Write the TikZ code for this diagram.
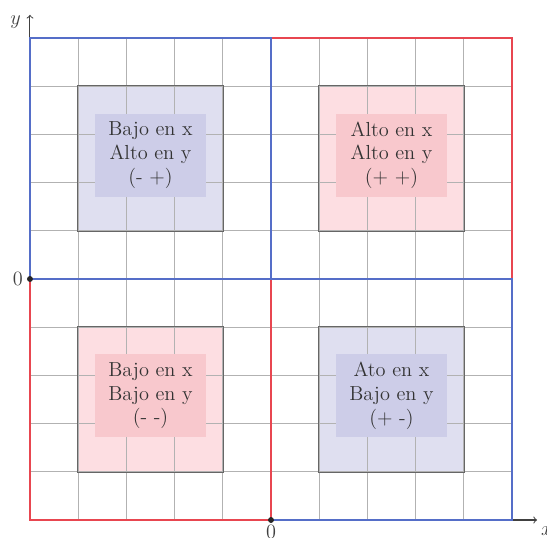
\documentclass[tikz,border=0pt]{standalone}
\usetikzlibrary{arrows,positioning}

\definecolor{qblue}{RGB}{85,110,200}
\definecolor{qred}{RGB}{232,70,80}
\definecolor{zoneblue}{RGB}{223,223,240}
\definecolor{tagblue}{RGB}{205,205,232}
\definecolor{zonered}{RGB}{253,222,226}
\definecolor{tagred}{RGB}{248,200,205}

\begin{document}
\begin{tikzpicture}[
  >=to,
  quad/.style={draw=#1, line width=0.9pt},
  zone/.style={
    rectangle, fill=#1, minimum size=3cm, inner sep=0pt
  },
  tag/.style={
    rectangle, fill=#1, text=black!80,
    minimum width=2.32cm, minimum height=1.72cm,
    font=\large, align=center, inner sep=0pt
  },
  lbl/.style={font=\large, text=black!75, inner sep=1pt},
  dot/.style={circle, fill=black!85, inner sep=0pt, minimum size=3.5pt}
]
\useasboundingbox (-0.622,-0.353) rectangle (10.726,10.788);

% Zonas
\node[zone=zoneblue] (tl) at (2.5,7.5) {};
\node[zone=zonered]  (tr) at (7.5,7.5) {};
\node[zone=zonered]  (bl) at (2.5,2.5) {};
\node[zone=zoneblue] (br) at (7.5,2.5) {};

% Rejilla
\draw[gray!60, line width=0.6pt] (0,0) grid (10,10);

% Ejes
\coordinate (o)    at (0,0);
\coordinate (xend) at (10.52,0);
\coordinate (yend) at (0,10.48);
\draw[->, black!75, line width=0.6pt] (o) -- (xend);
\draw[->, black!75, line width=0.6pt] (o) -- (yend);
\node[lbl] (xlab) at (10.72,-0.24) {$x$};
\node[lbl] (ylab) at (-0.3,10.33) {$y$};

% Cuadrantes
\draw[quad=qred]  (5,5) rectangle (10,10);
\draw[quad=qblue] (5,0) rectangle (10,5);
\draw[quad=qred]  (0,0) rectangle (5,5);
\draw[quad=qblue] (0,5) rectangle (5,10);

% Bordes de las zonas
\foreach \z in {tl,tr,bl,br}
  \draw[black!60, line width=0.6pt] (\z.south west) rectangle (\z.north east);

% Textos
\node[tag=tagblue] (tltxt) at (2.5,7.57) {Bajo en x\\Alto en y\\(- +)};
\node[tag=tagred]  (trtxt) at (7.5,7.57) {Alto en x\\Alto en y\\(+ +)};
\node[tag=tagred]  (bltxt) at (2.5,2.58) {Bajo en x\\Bajo en y\\(- -)};
\node[tag=tagblue] (brtxt) at (7.5,2.58) {Ato en x\\Bajo en y\\(+ -)};

% Medias
\node[dot] (my) at (0,5) {};
\node[dot] (mx) at (5,0) {};
\node[lbl, left=1pt of my]  (mylab) {0};
\node[lbl, below=0pt of mx] (mxlab) {0};

\end{tikzpicture}
\end{document}
